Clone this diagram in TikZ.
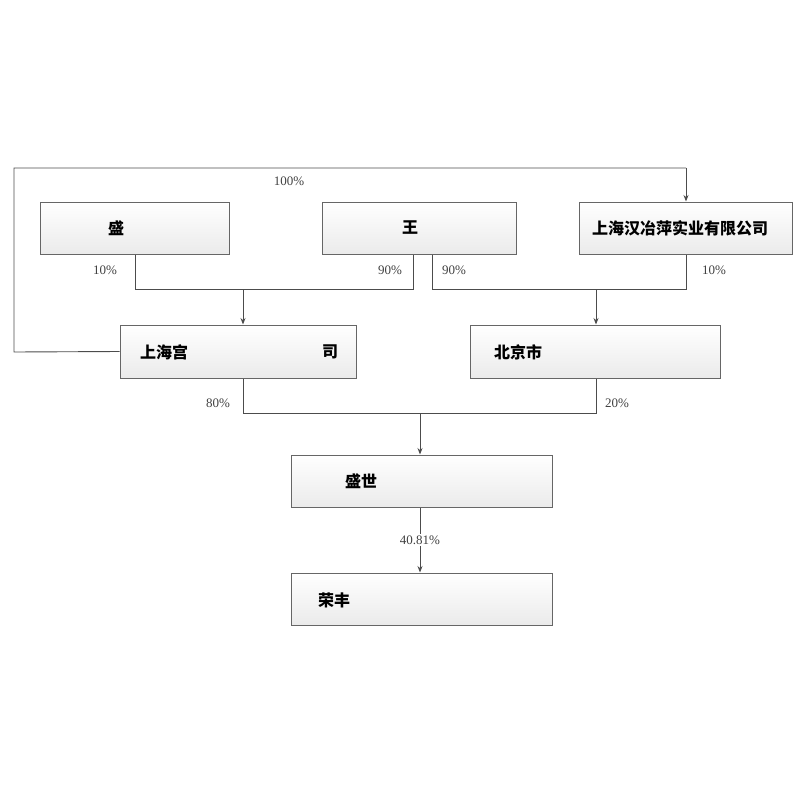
\documentclass[tikz,border=0pt]{standalone}
\usepackage{fontspec}
\setmainfont{Liberation Serif}
\newfontfamily\cjk{Noto Sans CJK SC}
\usetikzlibrary{arrows.meta}
\tikzset{
  ent/.style={draw=black!60, line width=1pt, top color=white, bottom color=black!8, inner sep=0pt},
  etext/.style={font=\cjk\bfseries\fontsize{16}{16}\selectfont, anchor=west, inner sep=0pt},
  link/.style={draw=black!70, line width=0.9pt},
  arr/.style={link, -{Stealth[length=6.5pt,width=5pt]}},
  pct/.style={font=\fontsize{13}{13}\selectfont, text=black!75, inner sep=0pt},
}
\begin{document}
\begin{tikzpicture}[x=1pt,y=-1pt]
\useasboundingbox (0,0) rectangle (800,800);
% boxes
\node[ent, minimum width=189pt, minimum height=52pt] (b1) at (134.5,228) {};
\node[ent, minimum width=194pt, minimum height=52pt] (b2) at (419,228) {};
\node[ent, minimum width=213pt, minimum height=52pt] (b3) at (685.5,228) {};
\node[ent, minimum width=236pt, minimum height=53pt] (b4) at (238,351.5) {};
\node[ent, minimum width=250pt, minimum height=53pt] (b5) at (595,351.5) {};
\node[ent, minimum width=261pt, minimum height=52pt] (b6) at (421.5,481) {};
\node[ent, minimum width=261pt, minimum height=52pt] (b7) at (421.5,599) {};
% texts
\node[etext] (t1) at (108,228) {盛};
\node[etext] (t2) at (402,228) {王};
\node[etext] (t3) at (592,228) {上海汉冶萍实业有限公司};
\node[etext] (t4) at (140,352) {上海宫};
\node[etext] (t4b) at (322,352) {司};
\node[etext] (t5) at (494,352) {北京市};
\node[etext] (t6) at (345,481) {盛世};
\node[etext] (t7) at (318,600) {荣丰};
% coordinates
\coordinate (c1) at (14,352);
\coordinate (c2) at (14,168);
\coordinate (c3) at (686,168);
\coordinate (j1) at (135,289);
\coordinate (j2) at (413,289);
\coordinate (j12) at (243,289);
\coordinate (j3) at (432,289);
\coordinate (j4) at (686,289);
\coordinate (j34) at (596,289);
\coordinate (k1) at (243,413);
\coordinate (k2) at (596,413);
\coordinate (k12) at (420,413);
% outer loop
\draw[link] (b4.west) -- (c1) -- (c2) -- (c3);
\draw[arr] (c3) -- (b3.north -| c3);
\node[pct] (p100) at (289,181) {100\%};
% first level
\draw[link] (b1.south -| j1) -- (j1) -- (j2) -- (b2.south -| j2);
\draw[arr] (j12) -- (b4.north -| j12);
\draw[link] (b2.south -| j3) -- (j3) -- (j4) -- (b3.south -| j4);
\draw[arr] (j34) -- (b5.north -| j34);
\node[pct] (p10a) at (105,270) {10\%};
\node[pct] (p90a) at (390,270) {90\%};
\node[pct] (p90b) at (454,270) {90\%};
\node[pct] (p10b) at (714,270) {10\%};
% second level
\draw[link] (b4.south -| k1) -- (k1) -- (k2) -- (b5.south -| k2);
\draw[arr] (k12) -- (b6.north -| k12);
\node[pct] (p80) at (218,403) {80\%};
\node[pct] (p20) at (617,403) {20\%};
% third level
\draw[arr] (b6.south -| k12) -- (b7.north -| k12);
\node[pct, fill=white, inner sep=2pt] (p40) at (420,540) {40.81\%};
\end{tikzpicture}
\end{document}
